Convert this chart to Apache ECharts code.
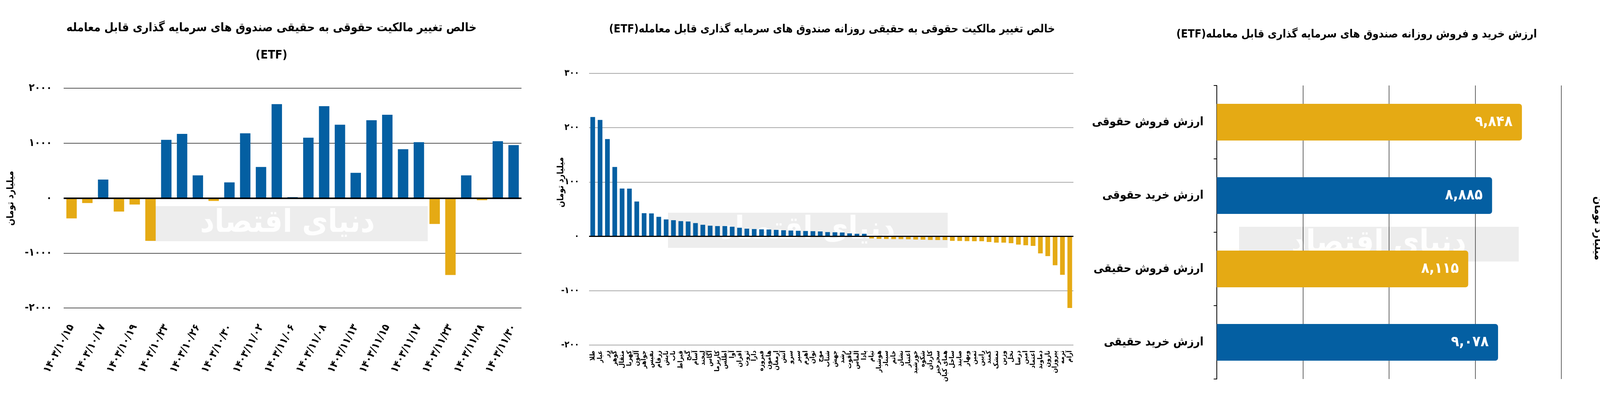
<!DOCTYPE html>
<html>
<head>
<meta charset="utf-8">
<script src="https://cdn.jsdelivr.net/npm/echarts@6/dist/echarts.min.js"></script>
<style>html,body{margin:0;padding:0;background:#fff}#c{width:4171px;height:1035px}</style>
</head>
<body>
<div id="c"></div>
<script>
// ---------- DATA ----------
const title1 = 'خالص تغییر مالکیت حقوقی به حقیقی صندوق های سرمایه گذاری قابل معامله\n(ETF)';
const title2 = 'خالص تغییر مالکیت حقوقی به حقیقی روزانه صندوق های سرمایه گذاری قابل معامله(ETF)';
const title3 = 'ارزش خرید و فروش روزانه صندوق های سرمایه گذاری قابل معامله(ETF)';
const unitName = 'میلیارد تومان';

const dates1 = ['1403/10/15','1403/10/16','1403/10/17','1403/10/18','1403/10/19','1403/10/22','1403/10/23','1403/10/24','1403/10/26','1403/10/29','1403/10/30','1403/11/01','1403/11/02','1403/11/03','1403/11/06','1403/11/07','1403/11/08','1403/11/09','1403/11/13','1403/11/14','1403/11/15','1403/11/16','1403/11/17','1403/11/20','1403/11/23','1403/11/27','1403/11/28','1403/11/29','1403/11/30'];
const values1 = [-370,-90,338,-245,-117,-778,1060,1169,414,-52,286,1179,567,1710,17,1100,1674,1336,460,1417,1517,890,1017,-471,-1399,414,-38,1036,964];
const yTicks1 = [-2000,-1000,0,1000,2000];

const funds2 = ['طلا','عیار','زر','گوهر','مثقال','کهربا','آلتون','جواهر','نفیس','زرفام','تابش','ناب','قیراط','گنج','آسام','لبخند','آگاس','کاریزما','اطلس','آوا','افران','ثروت','دارا','فیروزه','هامون','ارمغان','آتش','سرو','سپر','اهرم','توان','موج','شتاب','جهش','رشد','یاقوت','الماس','پادا','تیام','هوشیار','سیناد','خاتم','نشان','اعتبار','خورشید','شکوه','کاردان','سحرخیز','همای کیان','ساحل','صایند','وبهار','ثمین','رابین','کمند','تمشک','وزین','نخل','درسا','امین','اعتماد','دماوند','نارون','پیروزان','ترمه','آرام'];
const values2 = [219.7,214.4,179.1,127.7,88.1,87.9,64.1,42.7,42.3,36.0,31.2,29.8,28.1,27.4,24.5,21.4,19.7,19.0,19.0,17.8,15.9,14.2,13.5,13.0,12.7,12.0,11.3,10.8,10.3,9.9,9.6,9.1,7.9,7.5,7.2,5.5,4.8,4.8,-3.8,-4.6,-4.8,-5.0,-5.0,-5.3,-5.8,-6.0,-6.5,-6.7,-6.7,-8.2,-8.4,-8.7,-8.9,-8.9,-10.3,-11.5,-11.5,-12.5,-15.1,-16.3,-17.5,-31.3,-36.3,-53.1,-70.7,-131.7];
const yTicks2 = [-200,-100,0,100,200,300];

const cats3 = ['ارزش فروش حقوقی','ارزش خرید حقوقی','ارزش فروش حقیقی','ارزش خرید حقیقی'];
const values3 = [9848,8885,8115,9078];
const colorKinds3 = ['sell','buy','sell','buy'];

// ---------- STYLE ----------
const BLUE = '#045fa2';
const YELLOW = '#e5aa14';
const FONT = '"DejaVu Sans Condensed","DejaVu Sans",sans-serif';
const RTL = s => '\u202B' + s + '\u202C';
const fa = s => String(s).replace(/\d/g, d => '۰۱۲۳۴۵۶۷۸۹'[d]);
const signColor = p => p.value >= 0 ? BLUE : YELLOW;

const chart = echarts.init(document.getElementById('c'), null, {renderer: 'canvas'});

const wmText = (x, y) => ({type: 'text', z: -1, x: x, y: y, silent: true,
  style: {text: 'دنیای اقتصاد', fill: '#ffffff', font: 'bold 80px ' + FONT, align: 'center', verticalAlign: 'middle', opacity: 0.9}});

const option = {
  backgroundColor: '#ffffff',
  animation: false,
  textStyle: {fontFamily: FONT},
  title: [
    {text: title1, left: 690, top: 32, textAlign: 'center',
     textStyle: {fontFamily: FONT, fontSize: 30.5, fontWeight: 'bold', color: '#000', lineHeight: 70}},
    {text: RTL(title2), left: 2125, top: 57, textAlign: 'center',
     textStyle: {fontFamily: FONT, fontSize: 28.4, fontWeight: 'bold', color: '#000'}},
    {text: RTL(title3), left: 3468, top: 70, textAlign: 'center',
     textStyle: {fontFamily: FONT, fontSize: 28.4, fontWeight: 'bold', color: '#000'}}
  ],
  graphic: [
    {type: 'rect', z: -1, shape: {x: 377, y: 528, width: 718, height: 90}, style: {fill: '#ededed'}, silent: true},
    {type: 'rect', z: -1, shape: {x: 1710, y: 545, width: 716, height: 90}, style: {fill: '#ededed'}, silent: true},
    {type: 'rect', z: -1, shape: {x: 3172, y: 581, width: 716, height: 89}, style: {fill: '#ededed'}, silent: true},
    wmText(736, 573), wmText(2068, 590), wmText(3530, 625),
    {type: 'text', x: 28, y: 508, rotation: Math.PI / 2, style: {text: unitName, fill: '#000', font: 'bold 24px ' + FONT, align: 'center', verticalAlign: 'middle'}},
    {type: 'text', x: 1436, y: 467, rotation: Math.PI / 2, style: {text: unitName, fill: '#000', font: 'bold 22px ' + FONT, align: 'center', verticalAlign: 'middle'}},
    {type: 'text', x: 4090, y: 585, rotation: -Math.PI / 2, style: {text: unitName, fill: '#000', font: 'bold 28px ' + FONT, align: 'center', verticalAlign: 'middle'}}
  ],
  grid: [
    {left: 163, top: 226, width: 1172, height: 563},
    {left: 1508, top: 188, width: 1240, height: 696},
    {left: 3115, top: 219, width: 882, height: 752}
  ],
  xAxis: [
    {type: 'category', gridIndex: 0, data: dates1,
     axisLine: {show: false, onZero: false}, axisTick: {show: false},
     axisLabel: {interval: 1, rotate: 62, margin: 44, color: '#000', fontSize: 27, fontWeight: 'bold', fontFamily: FONT, formatter: v => fa(v)}},
    {type: 'category', gridIndex: 1, data: funds2,
     axisLine: {show: false, onZero: false}, axisTick: {show: false},
     axisLabel: {interval: 0, rotate: 90, margin: 14, color: '#000', fontSize: 17, fontWeight: 'bold', fontFamily: FONT}},
    {type: 'value', gridIndex: 2, min: 0, max: 11120, interval: 2780,
     axisLine: {show: false}, axisTick: {show: false}, axisLabel: {show: false},
     splitLine: {show: true, lineStyle: {color: '#333', width: 1.5}}}
  ],
  yAxis: [
    {type: 'value', gridIndex: 0, min: yTicks1[0], max: yTicks1[yTicks1.length - 1], interval: 1000,
     axisLine: {show: false}, axisTick: {show: false},
     axisLabel: {margin: 30, color: '#000', fontSize: 27, fontWeight: 'bold', fontFamily: FONT, formatter: v => fa(v)},
     splitLine: {lineStyle: {color: '#555', width: 2}}},
    {type: 'value', gridIndex: 1, min: yTicks2[0], max: yTicks2[yTicks2.length - 1], interval: 100,
     axisLine: {show: false}, axisTick: {show: false},
     axisLabel: {margin: 25, color: '#000', fontSize: 23, fontWeight: 'bold', fontFamily: FONT, formatter: v => fa(v)},
     splitLine: {lineStyle: {color: '#aaa', width: 2}}},
    {type: 'category', gridIndex: 2, data: cats3, inverse: true,
     axisLine: {show: true, lineStyle: {color: '#000', width: 2}},
     axisTick: {show: true, length: 8, lineStyle: {color: '#000', width: 2}},
     axisLabel: {margin: 34, color: '#000', fontSize: 30, fontWeight: 'bold', fontFamily: FONT}}
  ],
  series: [
    {type: 'bar', xAxisIndex: 0, yAxisIndex: 0, data: values1, barWidth: '66%',
     itemStyle: {color: signColor},
     markLine: {silent: true, symbol: 'none', label: {show: false},
       lineStyle: {color: '#000', width: 4, type: 'solid'}, data: [{yAxis: 0}]}},
    {type: 'bar', xAxisIndex: 1, yAxisIndex: 1, data: values2, barWidth: '64%',
     itemStyle: {color: signColor},
     markLine: {silent: true, symbol: 'none', label: {show: false},
       lineStyle: {color: '#000', width: 3, type: 'solid'}, data: [{yAxis: 0}]}},
    {type: 'bar', xAxisIndex: 2, yAxisIndex: 2, barWidth: '50%',
     data: values3.map((v, i) => ({value: v, itemStyle: {color: colorKinds3[i] === 'sell' ? YELLOW : BLUE}})),
     itemStyle: {borderRadius: [0, 7, 7, 0]},
     label: {show: true, position: 'insideRight', distance: 24, color: '#fff', fontSize: 38, fontWeight: 'bold', fontFamily: FONT,
       formatter: p => fa(p.value.toLocaleString('en-US'))}}
  ]
};
chart.setOption(option);
</script>
</body>
</html>
